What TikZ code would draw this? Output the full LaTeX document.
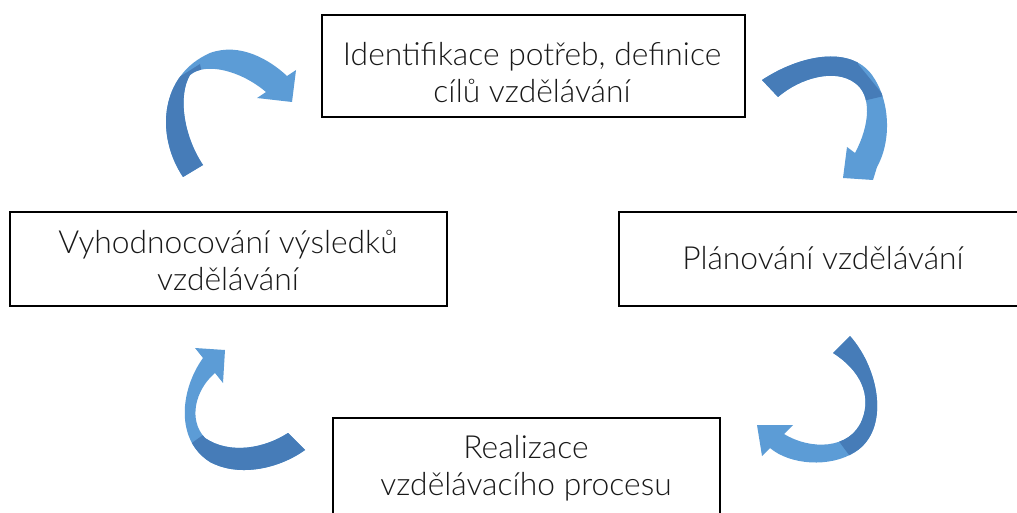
\documentclass[tikz,border=0pt]{standalone}
\usepackage{fontspec}
\IfFontExistsTF{Lato Light}{\setmainfont{Lato Light}\newcommand\lblsize{\fontsize{31.8}{37}\selectfont}}{\setmainfont{Carlito}\newcommand\lblsize{\fontsize{33}{37}\selectfont}}
\definecolor{arrdark}{RGB}{70,124,184}
\definecolor{arrlight}{RGB}{92,156,214}
\definecolor{txt}{RGB}{25,25,25}
\newcommand\pathA{(183,177) .. controls (155,135) and (160,75) .. (210,53) .. controls (240,42) and (270,60) .. (287,76) -- (296,70) -- (292,102) -- (257,98) -- (266,92) .. controls (240,70) and (205,62) .. (190,75) .. controls (178,95) and (183,135) .. (203,165) -- cycle}
\newcommand\pathB{(762,80) .. controls (800,55) and (850,45) .. (872,75) .. controls (890,100) and (892,140) .. (877,167) -- (873,180) -- (843,178) -- (847,147) -- (855,153) .. controls (870,125) and (872,95) .. (855,83) .. controls (835,68) and (800,78) .. (778,97) -- cycle}
\newcommand\pathC{(850,336) .. controls (880,370) and (890,430) .. (855,452) .. controls (830,468) and (790,465) .. (770,448) -- (762,456) -- (757,425) -- (793,425) -- (784,434) .. controls (810,450) and (850,450) .. (862,420) .. controls (872,395) and (860,370) .. (833,353) -- cycle}
\newcommand\pathD{(195,348) -- (225,350) -- (223,383) -- (215,373) .. controls (195,390) and (188,420) .. (205,438) .. controls (230,455) and (265,448) .. (288,433) -- (305,450) .. controls (280,468) and (240,478) .. (210,462) .. controls (175,440) and (180,390) .. (203,358) -- cycle}
\tikzset{
  box/.style={draw=black, line width=1.5pt, rectangle, inner sep=0pt},
  lbl/.style={align=center, text=txt, font=\lblsize, inner sep=0pt},
  lightarrow/.style={fill=arrlight},
  darkarrow/.style={fill=arrdark}
}
\begin{document}
\begin{tikzpicture}[x=1pt,y=-1pt]
\useasboundingbox (0,0) rectangle (1017,513);
\clip (0,0) rectangle (1017,513);
\fill[white] (0,0) rectangle (1017,513);
% boxes
\node[box, minimum width=423pt, minimum height=102pt] (top) at (533.5,66) {};
\node[box, minimum width=437pt, minimum height=94pt] (left) at (228.5,259) {};
\node[box, minimum width=401pt, minimum height=94pt] (right) at (819.5,259) {};
\node[box, minimum width=387pt, minimum height=100pt] (bottom) at (526.5,468) {};
% labels
\node[lbl] (ttop) at (532,73) {Identifikace potřeb, definice\\cílů vzdělávání};
\node[lbl] (tleft) at (228,260) {Vyhodnocování výsledků\\vzdělávání};
\node[lbl] (tright) at (823,258) {Plánování vzdělávání};
\node[lbl] (tbottom) at (526,468) {Realizace\\vzdělávacího procesu};
% arrows
\fill[lightarrow] \pathA;
\begin{scope}\clip \pathA; \fill[darkarrow] (140,200) -- (140,102) -- (200,64) -- (230,200) -- cycle; \end{scope}
\fill[lightarrow] \pathB;
\begin{scope}\clip \pathB; \fill[darkarrow] (740,40) -- (855,40) -- (858,64) -- (884,96) -- (740,130) -- cycle; \end{scope}
\fill[lightarrow] \pathC;
\begin{scope}\clip \pathC; \fill[darkarrow] (820,300) -- (900,300) -- (900,470) -- (860,470) -- (838,440) -- cycle; \end{scope}
\fill[lightarrow] \pathD;
\begin{scope}\clip \pathD; \fill[darkarrow] (190,500) -- (175,455) -- (210,430) -- (330,420) -- (330,500) -- cycle; \end{scope}
\end{tikzpicture}
\end{document}
